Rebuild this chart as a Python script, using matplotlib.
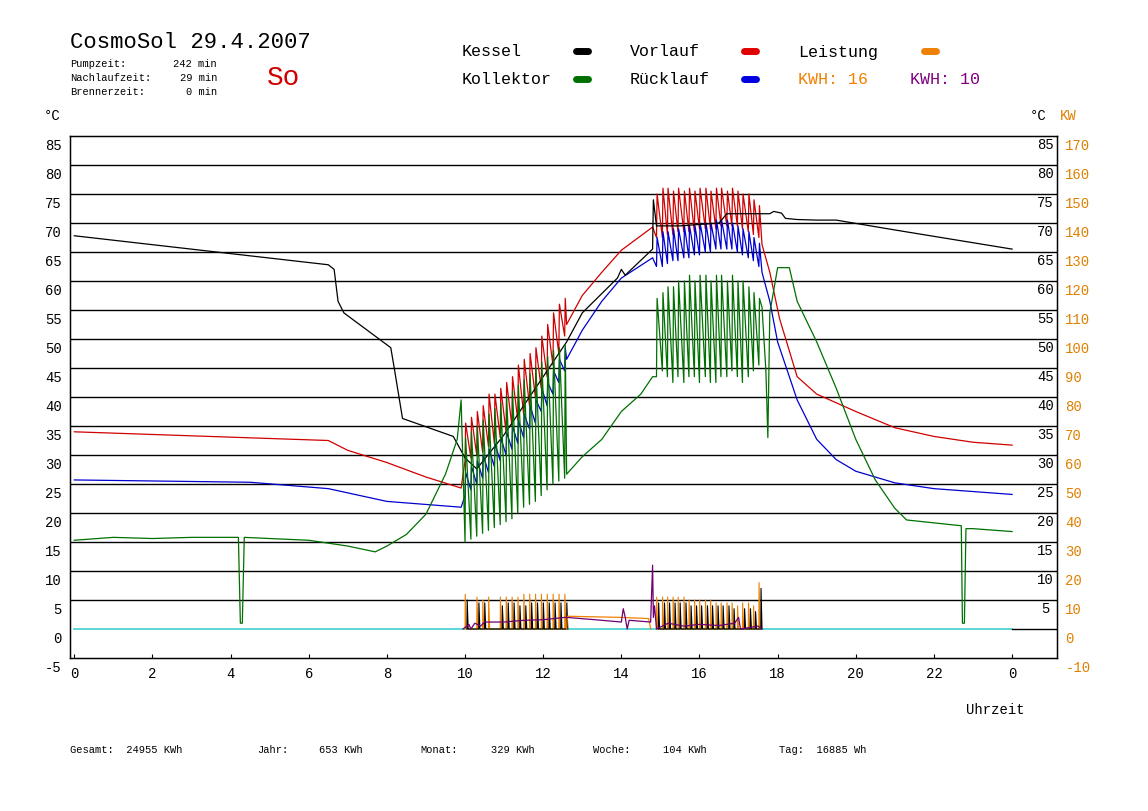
import numpy as np
import matplotlib.pyplot as plt
from matplotlib.lines import Line2D
from matplotlib.transforms import ScaledTranslation

MONO = 'Liberation Mono'
plt.rcParams['font.family'] = [MONO, 'DejaVu Sans Mono']
plt.rcParams['axes.unicode_minus'] = False

# smooth parts (hour, degC)
kessel_t = [0, 6.5, 6.65, 6.75, 6.9, 8.1, 8.2, 8.4, 9.7, 10.0, 10.3, 11.0, 12.0, 12.6, 13.0, 13.9, 14.0, 14.1, 14.8,
            14.82, 14.9, 15.5, 16.5, 16.7, 17.8, 17.9, 18.1, 18.2, 18.5, 19.0, 19.5, 21.0, 24.0]
kessel_v = [67.8, 62.8, 62, 56.5, 54.5, 48.5, 44.5, 36.3, 33.2, 29.5, 27.6, 33.5, 43.5, 49.5, 54.5, 60.5, 62, 61, 65.5,
            74, 69.5, 69.5, 70, 71.6, 71.6, 72, 71.7, 70.8, 70.6, 70.5, 70.5, 68.8, 65.5]

vor_t_a = [0, 6.5, 7.0, 8.0, 9.0, 9.9]
vor_v_a = [34, 32.5, 30.8, 28.7, 26.2, 24.3]
vor_t_b = [12.6, 13.0, 13.5, 14.0, 14.8]
vor_v_b = [52.5, 57.5, 61.5, 65.3, 69.3]
vor_t_c = [17.6, 17.8, 18.05, 18.5, 19.0, 20.0, 21.0, 22.0, 23.0, 24.0]
vor_v_c = [66.3, 61.5, 53.5, 43.5, 40.5, 37.5, 34.7, 33.2, 32.2, 31.7]

rueck_t_a = [0, 4.5, 6.5, 8.0, 9.9]
rueck_v_a = [25.7, 25.3, 24.2, 22, 21]
rueck_t_b = [12.6, 13.0, 13.5, 14.0, 14.8]
rueck_v_b = [46.5, 51.5, 56.5, 60.5, 64]
rueck_t_c = [17.6, 17.8, 18.0, 18.5, 19.0, 19.5, 20.0, 21.0, 22.0, 24.0]
rueck_v_c = [61.5, 56.5, 49.5, 39.5, 32.7, 29.2, 27.2, 25.2, 24.2, 23.2]

koll_t_a = [0, 1, 2, 3, 4.2, 4.25, 4.3, 4.35, 5, 6, 7, 7.7, 8.0, 8.5, 9.0, 9.5, 9.8, 9.9]
koll_v_a = [15.3, 15.8, 15.6, 15.8, 15.8, 1, 1, 15.8, 15.6, 15.3, 14.3, 13.3, 14.3, 16.3, 19.8, 26.7, 32.7, 39.5]
koll_t_b = [12.6, 13.0, 13.5, 14.0, 14.5, 14.8]
koll_v_b = [26.7, 29.7, 32.7, 37.5, 40.5, 43.5]
koll_t_c = [17.6, 17.7, 17.75, 17.8, 18.0, 18.3, 18.5, 19.0, 19.5, 20.0, 20.5, 21.0, 21.3, 22.0, 22.7, 22.73, 22.78, 22.82,
            23.0, 24.0]
koll_v_c = [55.5, 44.5, 33, 54.5, 62.3, 62.3, 56.5, 49.5, 41.5, 32.7, 25.7, 20.8, 18.8, 18.3, 17.8, 1, 1, 17.3, 17.3, 16.8]

# pump cycles, morning
cyc1_t = [10.0, 10.15, 10.3, 10.45, 10.6, 10.75, 10.9, 11.05, 11.2, 11.35, 11.5, 11.65, 11.8, 11.95, 12.1, 12.25,
          12.4, 12.55]
vor1_lo = [29, 29.5, 30, 30.5, 31.5, 32, 33, 34, 35, 36, 37, 38.5, 40, 41.5, 43.5, 45.5, 47.5, 50.5]
vor1_hi = [35.5, 36.5, 37.5, 38.5, 40.5, 40.5, 41.5, 42.5, 43.5, 45.5, 46.5, 47.5, 48.5, 50.5, 52.5, 54.5, 56, 57]
rue1_lo = [23, 24, 25, 26, 27, 28, 29, 30, 31, 32, 33, 34.5, 35.5, 37.5, 38.5, 40.5, 42.5, 44.5]
rue1_hi = [27, 28, 29, 30, 31, 32, 33, 34, 35, 36, 37, 38.5, 39.5, 41.5, 42.5, 44.5, 46.5, 48.5]
kol1_lo = [15, 15.5, 16, 16.5, 17, 17.5, 18, 18.5, 19, 20, 21, 21.5, 22, 23, 24, 25, 25.5, 26]
kol1_hi = [33, 34, 35, 36, 37, 38, 39, 40, 41, 42, 43, 44, 45, 46, 47, 48, 48.5, 49]
pow1_or = [6, 0, 5.5, 5, 5.5, 0, 5.5, 5.5, 5.5, 5.5, 6, 6, 6, 6, 6, 6, 6, 6]
pow1_bk = [5, 0, 4.5, 4.5, 0, 0, 4, 4.5, 4.5, 4, 4, 4.5, 4.5, 4.5, 4.5, 4.5, 4.5, 4.5]

# pump cycles, afternoon
cyc2_t = [14.9, 15.05, 15.18, 15.32, 15.45, 15.6, 15.73, 15.87, 16.0, 16.15, 16.28, 16.42, 16.55, 16.7, 16.83,
          16.97, 17.1, 17.25, 17.38, 17.52]
vor2_lo = [67.5, 67.5, 68, 68, 68.5, 68.5, 68.5, 68.5, 69, 69, 69, 69, 69.5, 69.5, 69.5, 69.5, 69, 68.5, 68, 67.5]
vor2_hi = [75, 76, 76, 75.5, 76, 75.5, 76, 75.5, 76, 76, 75.5, 76, 76, 75.5, 76, 75.5, 75, 75, 74, 73]
rue2_lo = [62.5, 62.5, 63, 63.5, 63.5, 64, 64, 64.5, 64.5, 65, 65, 65.5, 65.5, 65.5, 65.5, 65, 64.5, 64, 63.5, 62.5]
rue2_hi = [67.5, 68.5, 68.5, 69, 69, 69.5, 69.5, 69.5, 70, 70, 70, 70.5, 70.5, 70.5, 70, 69.5, 69, 68.5, 67.5, 66.5]
kol2_lo = [43.5, 44.5, 43.5, 42.5, 43.5, 42.5, 43.5, 43.5, 42.5, 43.5, 42.5, 42.5, 43.5, 43.5, 44.5, 43.5, 42.5, 43.5,
           44.5, 45.5]
kol2_hi = [57, 58, 59, 59, 60, 60, 61, 60, 61, 61, 60, 61, 61, 60, 61, 60, 60, 59, 58, 57]
pow2_or = [5.5, 5.5, 5.5, 5.5, 5.5, 5.5, 5, 5, 5, 5, 5, 4.5, 4.5, 4.5, 4.5, 4, 4.5, 4.5, 4, 8]
pow2_bk = [4.5, 4.5, 4.5, 4.5, 4.5, 4.5, 4, 4, 4, 4, 4, 4, 4, 4, 3.5, 0, 3.5, 3.5, 3, 7]

# purple (second kWh channel), left-axis units
lila_t = [9.95, 10.1, 10.15, 10.25, 10.4, 10.5, 11.0, 11.5, 12.0, 12.55, 12.6, 13.5, 14.0, 14.05, 14.1, 14.15, 14.2,
          14.75, 14.8, 14.82, 14.85, 14.9, 15.2, 15.6, 16.0, 16.5, 16.9, 17.0, 17.05, 17.5, 17.6]
lila_v = [0, 0.8, 0, 1, 0.5, 1.2, 1.2, 1.5, 1.6, 2, 2, 1.5, 1.2, 3.5, 2, 0, 1.5, 1.2, 11, 2, 4, 0, 1, 0.5, 0.8,
          0.6, 1, 2, 0, 0.5, 0]

# flat orange stretch between the pumping phases
or_flat_t = [12.6, 12.62, 14.0, 14.7, 14.75]
or_flat_v = [0, 2.2, 2.0, 1.8, 0]

hours = [0, 2, 4, 6, 8, 10, 12, 14, 16, 18, 20, 22]


def saw(t_list, lo, hi, lead_t, lead_v, tail_t, tail_v):
    xs, ys = list(lead_t), list(lead_v)
    for t, a, b in zip(t_list, lo, hi):
        xs += [t, t + 0.015]
        ys += [a, b]
    return xs + list(tail_t), ys + list(tail_v)


def spikes(t_list, h, dt=0.0):
    xs, ys = [], []
    for t, v in zip(t_list, h):
        xs += [t + dt, t + dt + 0.005, t + dt + 0.03]
        ys += [0, v, 0]
    return xs, ys


fig = plt.figure(figsize=(11.48, 8.12), dpi=100)
ax = fig.add_axes([70 / 1148, 1 - 659 / 812, 987 / 1148, 522 / 812])
ax.set_xlim(-0.11, 25.15)
ax.set_ylim(-5, 85)
for v in range(5, 85, 5):
    ax.axhline(v, color='black', lw=1)
for s in ax.spines.values():
    s.set_linewidth(1)

ax.plot([0, 24], [0, 0], color='#40d0d0', lw=1.2)
ax.plot([24, 25.15], [0, 0], color='black', lw=1)

x, y = saw(cyc1_t, vor1_lo, vor1_hi, vor_t_a, vor_v_a, [], [])
x2, y2 = saw(cyc2_t, vor2_lo, vor2_hi, vor_t_b, vor_v_b, vor_t_c, vor_v_c)
ax.plot(x + x2, y + y2, color='#d00000', lw=0.9)
x, y = saw(cyc1_t, rue1_lo, rue1_hi, rueck_t_a, rueck_v_a, [], [])
x2, y2 = saw(cyc2_t, rue2_lo, rue2_hi, rueck_t_b, rueck_v_b, rueck_t_c, rueck_v_c)
ax.plot(x + x2, y + y2, color='#0000d0', lw=0.9)
ax.plot(kessel_t, kessel_v, color='black', lw=0.9)
x, y = saw(cyc1_t, kol1_lo, kol1_hi, koll_t_a, koll_v_a, [], [])
x2, y2 = saw(cyc2_t, kol2_lo, kol2_hi, koll_t_b, koll_v_b, koll_t_c, koll_v_c)
ax.plot(x + x2, y + y2, color='#007000', lw=0.9)

for tl, h, col, dt in [(cyc1_t, pow1_or, '#f08000', 0.0), (cyc2_t, pow2_or, '#f08000', 0.0),
                       (cyc1_t, pow1_bk, 'black', 0.05), (cyc2_t, pow2_bk, 'black', 0.05)]:
    sx, sy = spikes(tl, h, dt)
    ax.plot(sx, sy, color=col, lw=0.8)
ax.plot(or_flat_t, or_flat_v, color='#f08000', lw=0.9)
ax.plot(lila_t, lila_v, color='#700070', lw=0.9)

down = ScaledTranslation(0, -0.08, fig.dpi_scale_trans)
ax.set_xticks(hours + [24])
ax.set_xticklabels([str(h) for h in hours] + ['0'])
ax.set_yticks(range(-5, 90, 5))
ax.tick_params(axis='both', labelsize=10, length=0, pad=6)
ax.tick_params(axis='x', length=3, direction='in')
for lab in ax.get_yticklabels():
    lab.set_transform(lab.get_transform() + down)

ax2 = ax.twinx()
ax2.set_ylim(-10, 170)
ax2.set_yticks(range(-10, 180, 10))
ax2.tick_params(axis='y', labelsize=10, length=0, labelcolor='#e08000', pad=6)
for lab in ax2.get_yticklabels():
    lab.set_transform(lab.get_transform() + down)
for v in range(5, 90, 5):
    ax.text(24.85, v, str(v), ha='center', va='center', fontsize=10, transform=ax.transData + down)

fig.text(70 / 1148, 1 - 42 / 812, 'CosmoSol 29.4.2007', fontsize=16, va='center')
info = [('Pumpzeit:', '242 min'), ('Nachlaufzeit:', '29 min'), ('Brennerzeit:', '0 min')]
for i, (a, b) in enumerate(info):
    yy = 1 - (64 + i * 14) / 812
    fig.text(70 / 1148, yy, a, fontsize=7.5, va='center')
    fig.text(217 / 1148, yy, b, fontsize=7.5, va='center', ha='right')
fig.text(267 / 1148, 1 - 78 / 812, 'So', fontsize=20, color='#d00000', va='center')

legend = [('Kessel', 462, 52, 'black', 582), ('Vorlauf', 630, 52, '#e00000', 750),
          ('Leistung', 798, 52, '#f08000', 930), ('Kollektor', 462, 80, '#007000', 582),
          ('Rücklauf', 630, 80, '#0000e0', 750)]
for name, px, py, col, mx in legend:
    fig.text(px / 1148, 1 - py / 812, name, fontsize=12, va='center')
    fig.add_artist(Line2D([(mx - 6) / 1148, (mx + 6) / 1148], [1 - py / 812] * 2, color=col, lw=5,
                          solid_capstyle='round', transform=fig.transFigure))
fig.text(798 / 1148, 1 - 80 / 812, 'KWH: 16', fontsize=12, va='center', color='#f08000')
fig.text(910 / 1148, 1 - 80 / 812, 'KWH: 10', fontsize=12, va='center', color='#800080')

fig.text(44 / 1148, 1 - 116 / 812, '°C', fontsize=10, va='center')
fig.text(1030 / 1148, 1 - 116 / 812, '°C', fontsize=10, va='center')
fig.text(1060 / 1148, 1 - 116 / 812, 'KW', fontsize=10, va='center', color='#e08000')
fig.text(966 / 1148, 1 - 710 / 812, 'Uhrzeit', fontsize=10, va='center')

bottom = [('Gesamt:  24955 KWh', 70), ('Jahr:', 257), ('653 KWh', 319), ('Monat:', 420), ('329 KWh', 491),
          ('Woche:', 593), ('104 KWh', 663), ('Tag:  16885 Wh', 779)]
for s, px in bottom:
    fig.text(px / 1148, 1 - 750 / 812, s, fontsize=7.5, va='center')

fig.savefig('out.png', dpi=100)
